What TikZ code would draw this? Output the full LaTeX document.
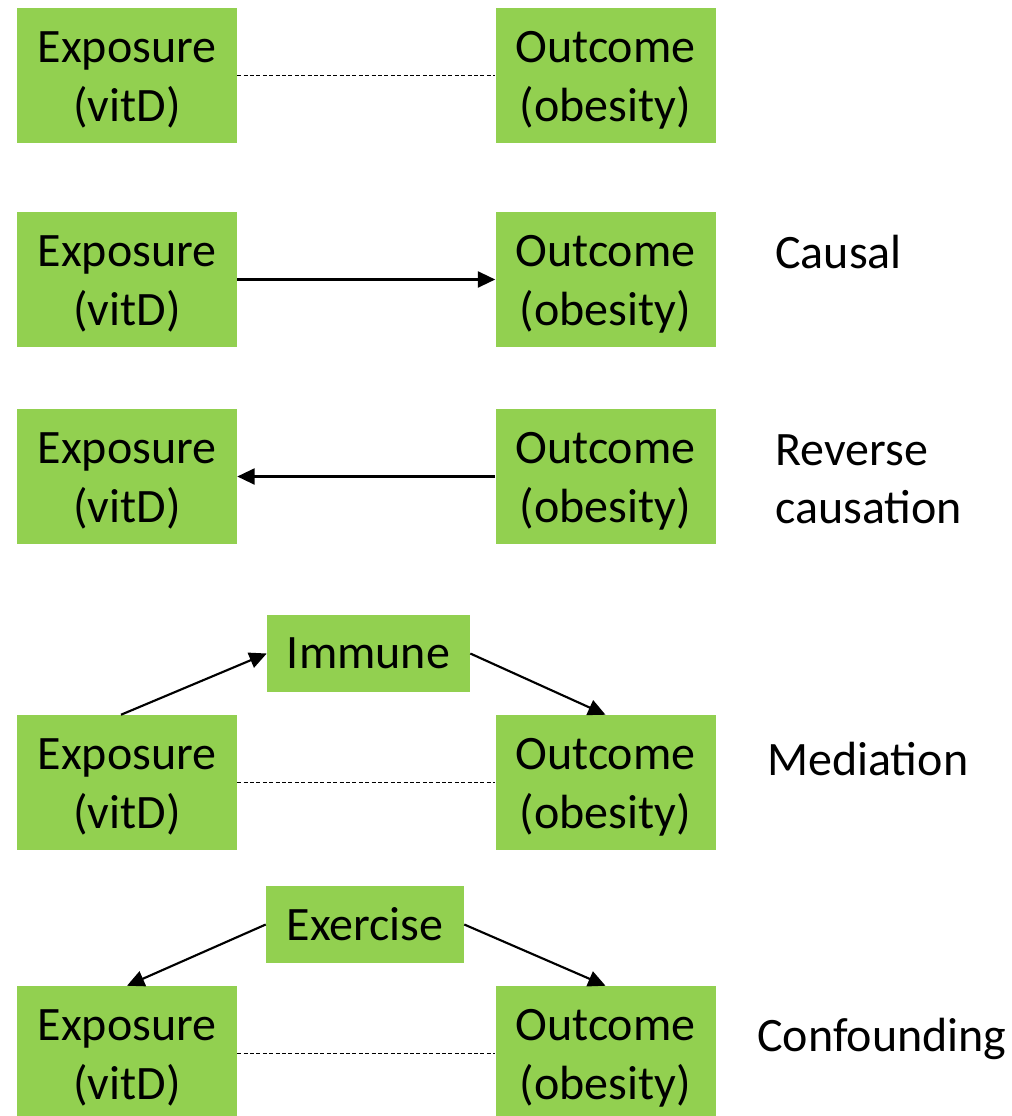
\documentclass[tikz,border=0pt]{standalone}
\usepackage{fontspec}
\setmainfont{Carlito}
\usetikzlibrary{arrows.meta,calc}
\definecolor{boxgreen}{HTML}{92D050}
\tikzset{
  box/.style={rectangle, fill=boxgreen, inner sep=0pt,
    minimum width=165pt, minimum height=101.25pt},
  boxtext/.style={inner sep=0pt, align=center,
    font=\fontsize{36}{44}\selectfont},
  midbox/.style={rectangle, fill=boxgreen, inner sep=0pt, align=center,
    minimum height=57.75pt, font=\fontsize{36}{43.5}\selectfont},
  lbl/.style={anchor=base west, inner sep=0pt, align=left,
    font=\fontsize{36}{43.5}\selectfont},
  dashline/.style={draw=black, line width=0.9pt, dash pattern=on 3pt off 1.8pt},
  arr/.style={draw=black, line width=1.6pt, -{Triangle[length=13pt,width=12pt]}}
}
\begin{document}
\begin{tikzpicture}[x=0.75pt,y=-0.75pt]
\useasboundingbox (0,0) rectangle (1012,1116);
% Row 1
\node[box] (e1) at (127,75.5) {};
\node[box] (o1) at (605.5,75.5) {};
\node[boxtext] (e1t) at ($(e1.center)+(0,4.5)$) {Exposure\\(vitD)};
\node[boxtext] (o1t) at ($(o1.center)+(0,4.5)$) {Outcome\\(obesity)};
\draw[dashline] (e1.east) -- (o1.west);
% Row 2
\node[box] (e2) at (127,279.5) {};
\node[box] (o2) at (605.5,279.5) {};
\node[boxtext] (e2t) at ($(e2.center)+(0,4.5)$) {Exposure\\(vitD)};
\node[boxtext] (o2t) at ($(o2.center)+(0,4.5)$) {Outcome\\(obesity)};
\draw[arr] (e2.east) -- (o2.west);
\node[lbl] (l2) at (775,268) {Causal};
% Row 3
\node[box] (e3) at (127,476.5) {};
\node[box] (o3) at (605.5,476.5) {};
\node[boxtext] (e3t) at ($(e3.center)+(0,4.5)$) {Exposure\\(vitD)};
\node[boxtext] (o3t) at ($(o3.center)+(0,4.5)$) {Outcome\\(obesity)};
\draw[arr] (o3.west) -- (e3.east);
\node[lbl] (l3) at (775,523) {Reverse\\causation};
% Row 4
\node[box] (e4) at (127,782.5) {};
\node[box] (o4) at (605.5,782.5) {};
\node[boxtext] (e4t) at ($(e4.center)+(0,4.5)$) {Exposure\\(vitD)};
\node[boxtext] (o4t) at ($(o4.center)+(0,4.5)$) {Outcome\\(obesity)};
\node[midbox, minimum width=152.25pt] (im) at (368.5,653.5) {Immune};
\draw[dashline] (e4.east) -- (o4.west);
\draw[arr] ($(e4.north)+(-6,0)$) -- (im.west);
\draw[arr] (im.east) -- (o4.north);
\node[lbl] (l4) at (767,775) {Mediation};
% Row 5
\node[box] (e5) at (127,1053.5) {};
\node[box] (o5) at (605.5,1053.5) {};
\node[boxtext] (e5t) at ($(e5.center)+(0,4.5)$) {Exposure\\(vitD)};
\node[boxtext] (o5t) at ($(o5.center)+(0,4.5)$) {Outcome\\(obesity)};
\node[midbox, minimum width=148.5pt] (ex) at (365,924.5) {Exercise};
\draw[dashline] (e5.east) -- (o5.west);
\draw[arr] (ex.west) -- (e5.north);
\draw[arr] (ex.east) -- (o5.north);
\node[lbl] (l5) at (757,1051) {Confounding};
\end{tikzpicture}
\end{document}
